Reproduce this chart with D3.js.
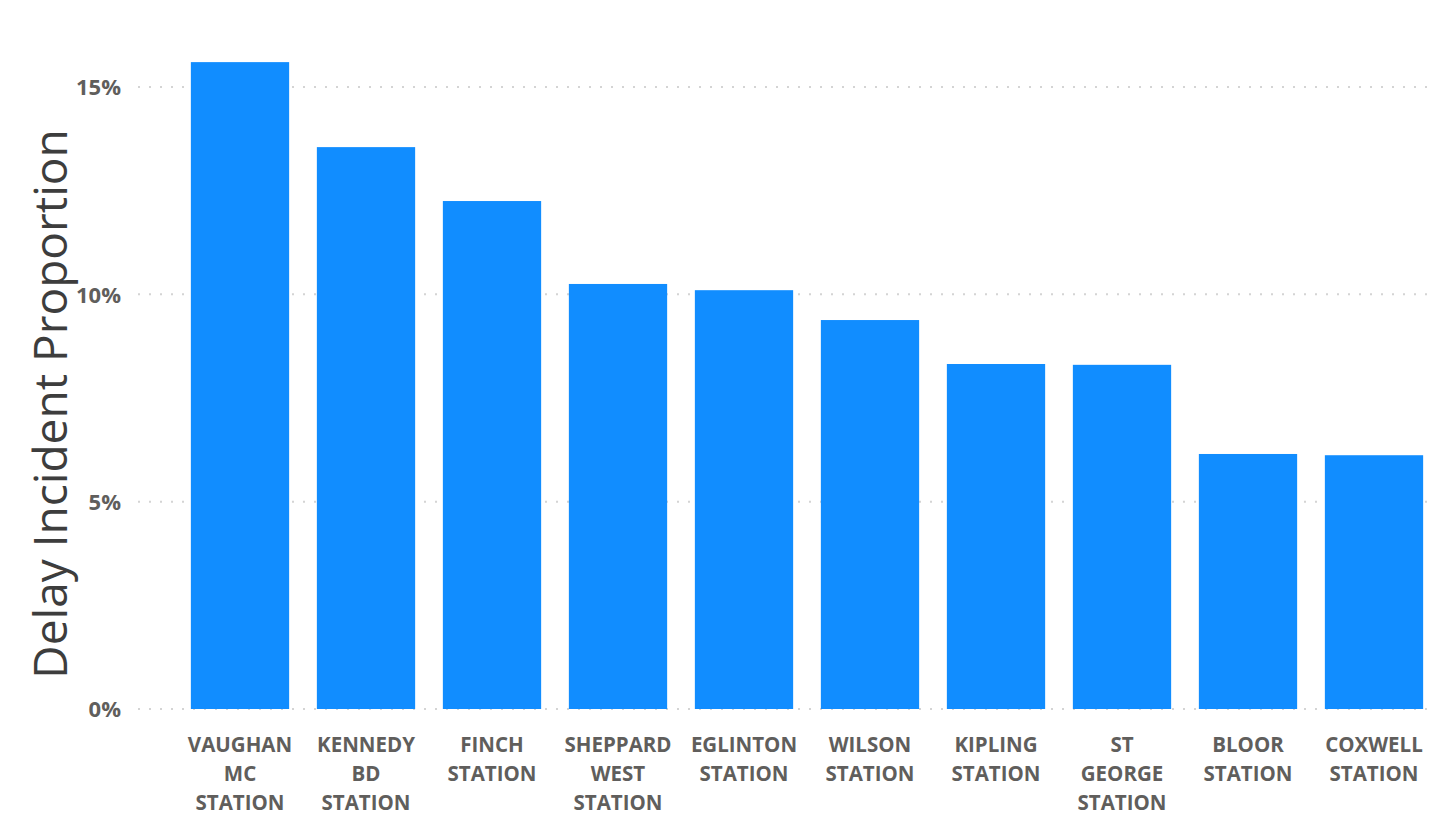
<!DOCTYPE html>
<html><head><meta charset="utf-8">
<script src="https://cdn.jsdelivr.net/npm/d3@7"></script>
<style>body{margin:0;background:#fff;} svg{display:block;}</style>
</head><body>
<svg id="chart" width="1437" height="817"></svg>
<script>
const categories = [
  ["VAUGHAN","MC","STATION"],
  ["KENNEDY","BD","STATION"],
  ["FINCH","STATION"],
  ["SHEPPARD","WEST","STATION"],
  ["EGLINTON","STATION"],
  ["WILSON","STATION"],
  ["KIPLING","STATION"],
  ["ST","GEORGE","STATION"],
  ["BLOOR","STATION"],
  ["COXWELL","STATION"]
];
const values = [0.1560, 0.1355, 0.1225, 0.1025, 0.1010, 0.0938, 0.0832, 0.0830, 0.0615, 0.0612];
const yTicks = [0, 0.05, 0.10, 0.15];
const yTitle = "Delay Incident Proportion";

const svg = d3.select("#chart");
const keys = categories.map(c => c.join(" "));
const x = d3.scaleBand().domain(keys).range([177, 1437]).paddingInner(0.22).paddingOuter(0.11);
const y = d3.scaleLinear().domain([0, 0.15]).range([709, 87]);

// gridlines
svg.append("g").selectAll("line").data(yTicks).join("line")
  .attr("x1", 138).attr("x2", 1432)
  .attr("y1", d => y(d)).attr("y2", d => y(d))
  .attr("stroke", "#d4d4d4").attr("stroke-width", 2)
  .attr("stroke-dasharray", "2,9").attr("stroke-linecap", "butt");

// y axis labels
const yAxis = d3.axisLeft(y).tickValues(yTicks).tickFormat(d3.format(".0%")).tickSize(0).tickPadding(0);
const ya = svg.append("g").attr("transform", "translate(121,0)").call(yAxis);
ya.select(".domain").remove();
ya.selectAll("text").attr("font-family", "'Open Sans', sans-serif").attr("font-weight", "bold")
  .attr("font-size", 22).attr("fill", "#605E5C").attr("dy", "0.35em");

// bars
svg.append("g").selectAll("rect").data(values).join("rect")
  .attr("x", (d, i) => x(keys[i])).attr("width", x.bandwidth())
  .attr("y", d => y(d)).attr("height", d => y(0) - y(d))
  .attr("fill", "#118DFF");

// x labels
const xl = svg.append("g").selectAll("text").data(categories).join("text")
  .attr("x", (d, i) => x(keys[i]) + x.bandwidth() / 2)
  .attr("y", 752)
  .attr("text-anchor", "middle")
  .attr("font-family", "'Open Sans', sans-serif").attr("font-weight", "bold")
  .attr("font-size", 20.5).attr("fill", "#605E5C");
xl.selectAll("tspan").data(d => d).join("tspan")
  .attr("x", function() { return this.parentNode.getAttribute("x"); })
  .attr("dy", (d, i) => i === 0 ? 0 : 29)
  .text(d => d);

// y title
svg.append("text")
  .attr("transform", "translate(67,404) rotate(-90)")
  .attr("text-anchor", "middle")
  .attr("font-family", "'Open Sans', sans-serif")
  .attr("font-size", 46).attr("fill", "#3d3d3d")
  .text(yTitle);
</script>
</body></html>
